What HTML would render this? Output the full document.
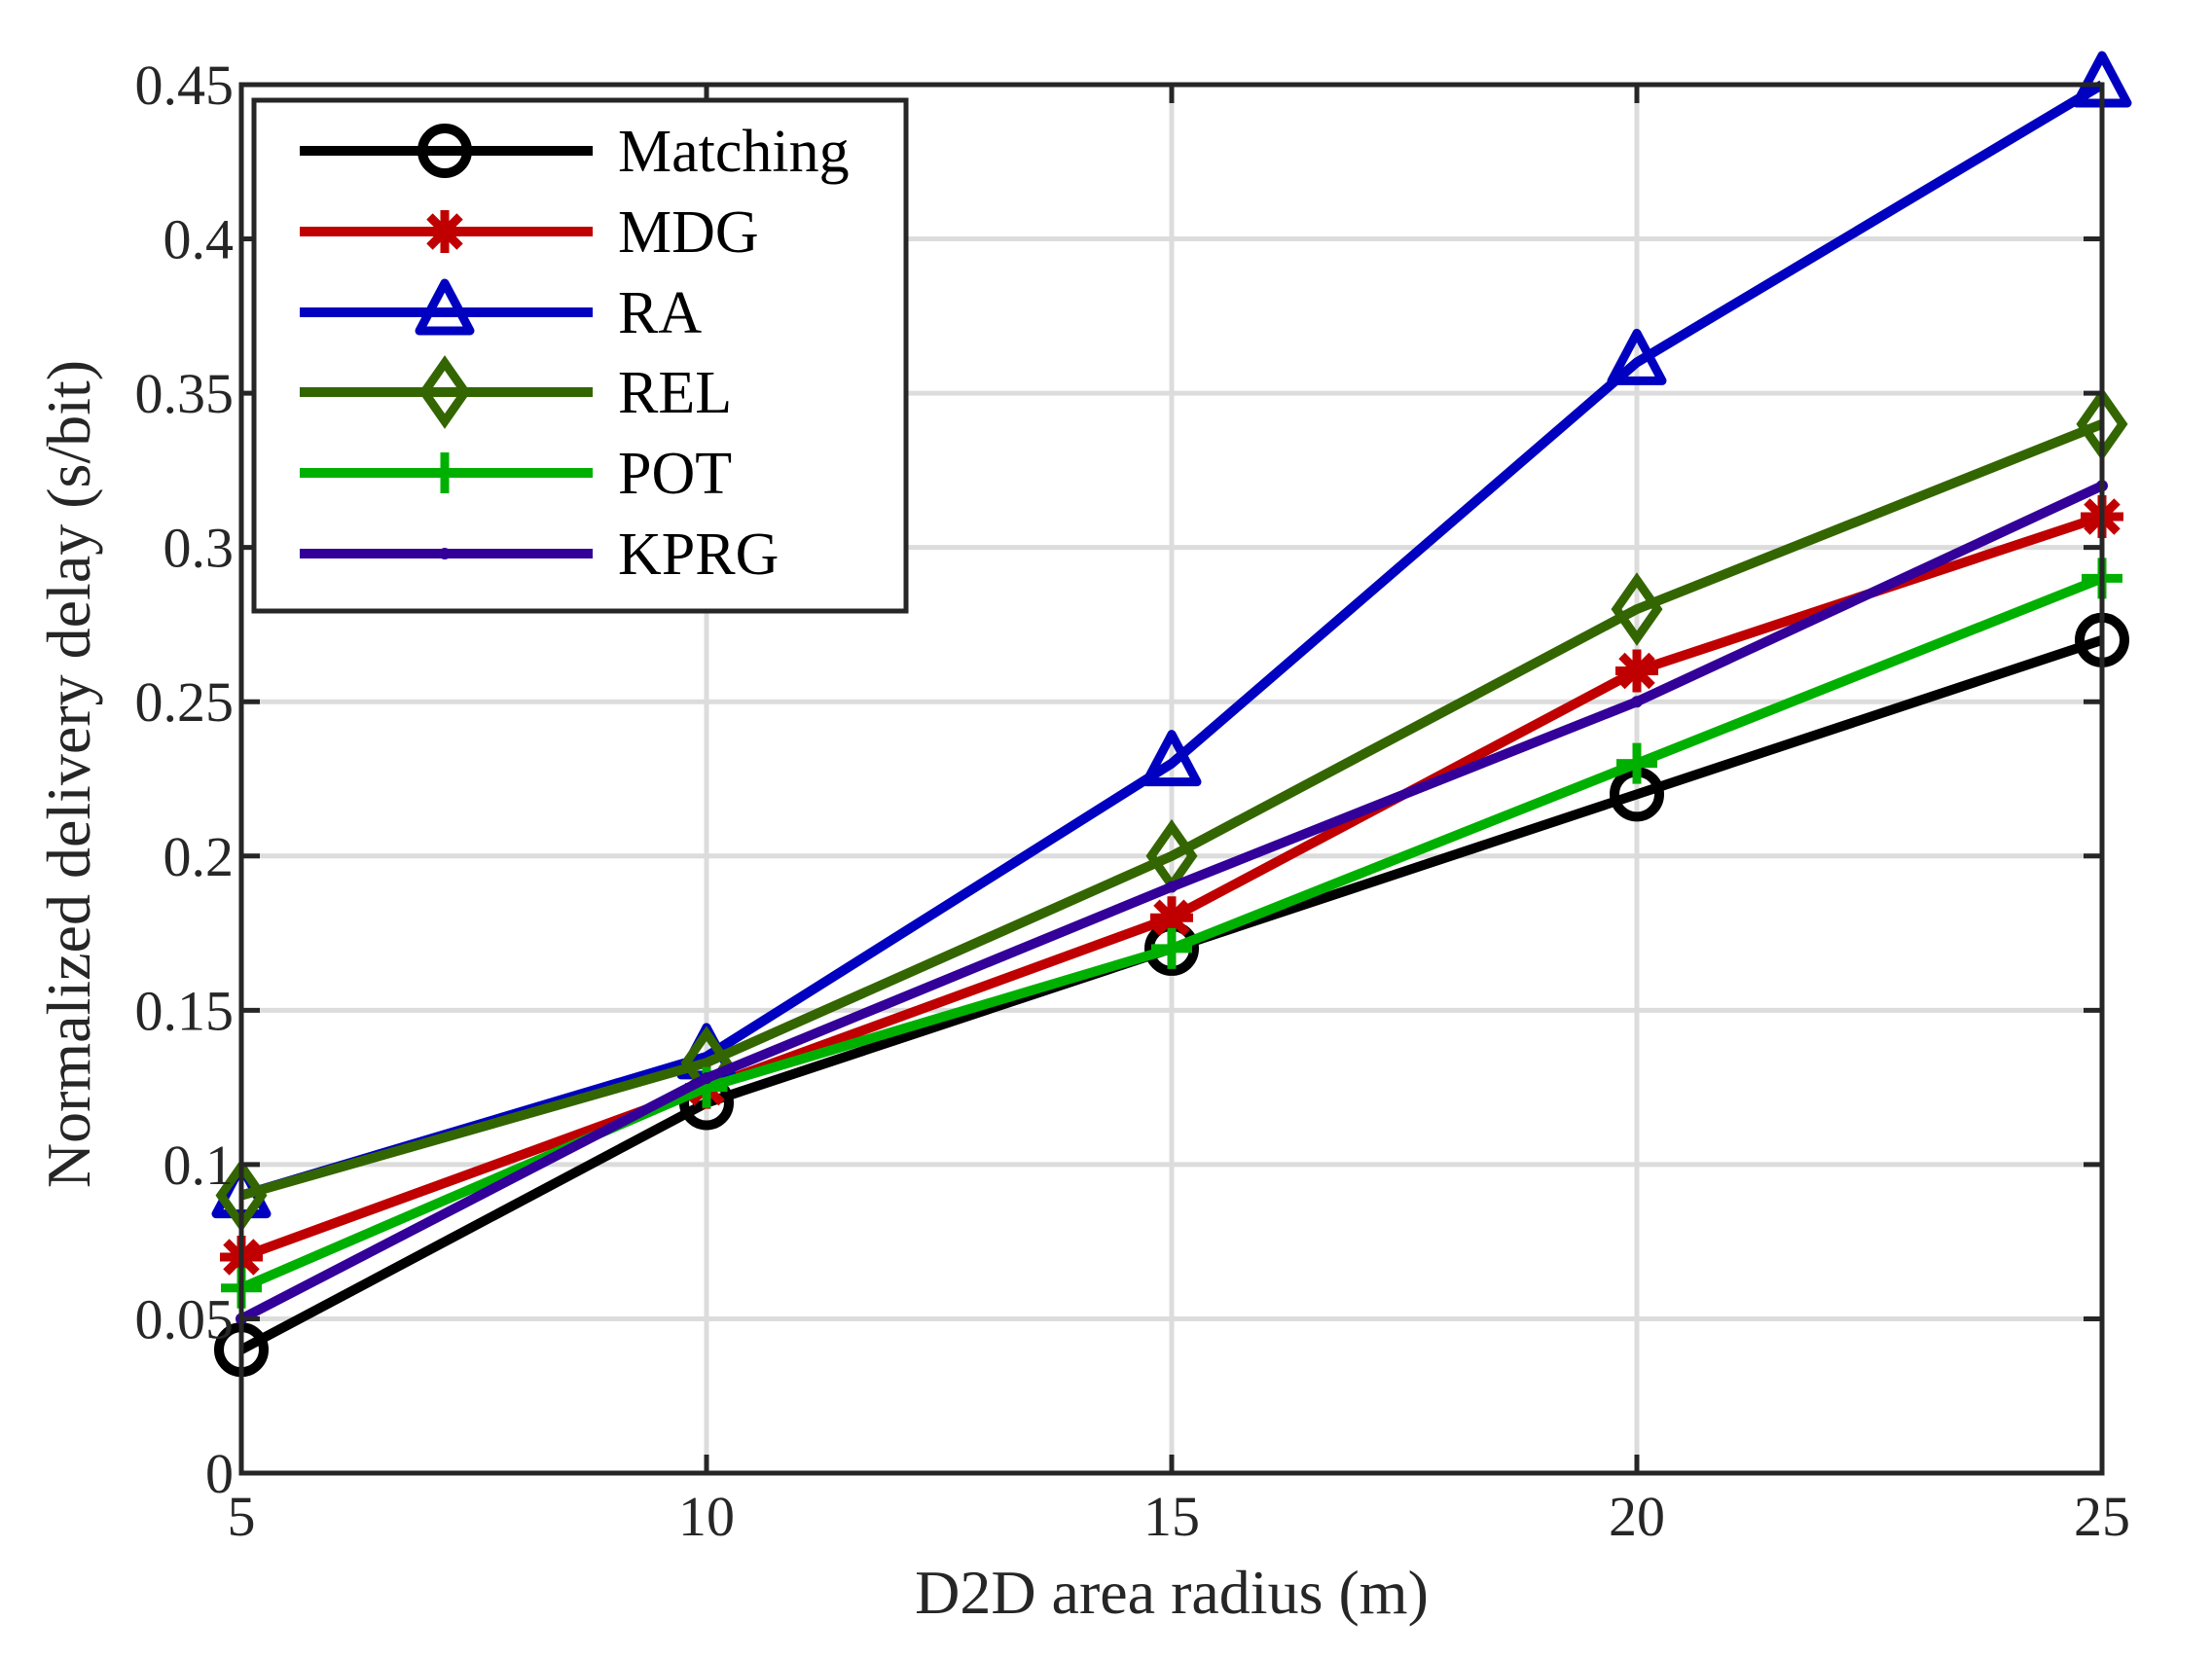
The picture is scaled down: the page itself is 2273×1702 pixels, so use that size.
<!DOCTYPE html>
<html><head><meta charset="utf-8"><style>
html,body{margin:0;padding:0;background:#fff;}
svg{display:block;font-family:"Liberation Serif",serif;}
</style></head><body>
<svg id="chart" width="2273" height="1702" viewBox="0 0 2273 1702" xmlns="http://www.w3.org/2000/svg">
<g id="grid"></g>
<g id="series"></g>
<g id="axes"></g>
<g id="legend"></g>
</svg>
<script>
const xValues = [5, 10, 15, 20, 25];
const seriesNames = ["Matching", "MDG", "RA", "REL", "POT", "KPRG"];
const matching = [0.04, 0.12, 0.17, 0.22, 0.27];
const mdg = [0.07, 0.125, 0.18, 0.26, 0.31];
const ra = [0.09, 0.135, 0.23, 0.36, 0.45];
const rel = [0.09, 0.133, 0.20, 0.28, 0.34];
const pot = [0.06, 0.125, 0.17, 0.23, 0.29];
const kprg = [0.05, 0.128, 0.19, 0.25, 0.32];
const xTicks = [5, 10, 15, 20, 25];
const yTicks = [0, 0.05, 0.1, 0.15, 0.2, 0.25, 0.3, 0.35, 0.4, 0.45];
const yTickLabels = ["0", "0.05", "0.1", "0.15", "0.2", "0.25", "0.3", "0.35", "0.4", "0.45"];

const L = 248, R = 2160, T = 87, B = 1514;
const xs = v => L + (v - 5) / 20 * (R - L);
const ys = v => B - v / 0.45 * (B - T);
const NS = "http://www.w3.org/2000/svg";
function mk(tag, attrs, parent) {
  const e = document.createElementNS(NS, tag);
  for (const k in attrs) e.setAttribute(k, attrs[k]);
  parent.appendChild(e);
  return e;
}
const grid = document.getElementById('grid');
const axes = document.getElementById('axes');
const seriesG = document.getElementById('series');
const legend = document.getElementById('legend');
const AX = "#262626";

mk('rect', {x: L, y: T, width: R - L, height: B - T, fill: '#fff'}, grid);
xTicks.forEach(t => {
  const g = mk('line', {x1: xs(t), x2: xs(t), y1: T, y2: B, stroke: '#dcdcdc', 'stroke-width': 5}, grid);
  
  
});
yTicks.forEach(t => {
  const g = mk('line', {x1: L, x2: R, y1: ys(t), y2: ys(t), stroke: '#dcdcdc', 'stroke-width': 5}, grid);
  
  
});

function marker(type, x, y, color, parent) {
  let m;
  if (type === 'circle') {
    m = mk('circle', {cx: x, cy: y, r: 23, fill: 'none', stroke: color, 'stroke-width': 10}, parent);
  } else if (type === 'star') {
    m = mk('g', {stroke: color, 'stroke-width': 9}, parent);
    const r = 22;
    for (let a = 0; a < 180; a += 45) {
      const rad = a * Math.PI / 180;
      mk('line', {x1: x - r * Math.sin(rad), y1: y - r * Math.cos(rad), x2: x + r * Math.sin(rad), y2: y + r * Math.cos(rad)}, m);
    }
  } else if (type === 'tri') {
    m = mk('polygon', {points: `${x},${y - 30} ${x - 26},${y + 19} ${x + 26},${y + 19}`, fill: 'none', stroke: color, 'stroke-width': 9, 'stroke-linejoin': 'round'}, parent);
  } else if (type === 'diamond') {
    m = mk('polygon', {points: `${x},${y - 30} ${x + 21},${y} ${x},${y + 30} ${x - 21},${y}`, fill: 'none', stroke: color, 'stroke-width': 9}, parent);
  } else if (type === 'plus') {
    m = mk('g', {stroke: color, 'stroke-width': 9}, parent);
    mk('line', {x1: x - 21, y1: y, x2: x + 21, y2: y}, m);
    mk('line', {x1: x, y1: y - 21, x2: x, y2: y + 21}, m);
  } else {
    m = mk('circle', {cx: x, cy: y, r: 6, fill: color}, parent);
  }
  
  
}

const allSeries = [
  {name: seriesNames[0], data: matching, color: '#000000', m: 'circle'},
  {name: seriesNames[1], data: mdg, color: '#c00000', m: 'star'},
  {name: seriesNames[2], data: ra, color: '#0000c0', m: 'tri'},
  {name: seriesNames[3], data: rel, color: '#336600', m: 'diamond'},
  {name: seriesNames[4], data: pot, color: '#00b000', m: 'plus'},
  {name: seriesNames[5], data: kprg, color: '#330099', m: 'dot'}
];
allSeries.forEach(s => {
  const g = mk('g', {}, seriesG);
  
  
  const pts = s.data.map((v, i) => xs(xValues[i]) + ',' + ys(v)).join(' ');
  const pl = mk('polyline', {points: pts, fill: 'none', stroke: s.color, 'stroke-width': 10, 'stroke-linejoin': 'round'}, g);
  
  
  s.data.forEach((v, i) => marker(s.m, xs(xValues[i]), ys(v), s.color, g));
});

mk('rect', {x: L, y: T, width: R - L, height: B - T, fill: 'none', stroke: AX, 'stroke-width': 5}, axes);
xTicks.forEach(t => {
  mk('line', {x1: xs(t), x2: xs(t), y1: B, y2: B - 19, stroke: AX, 'stroke-width': 5}, axes);
  mk('line', {x1: xs(t), x2: xs(t), y1: T, y2: T + 19, stroke: AX, 'stroke-width': 5}, axes);
  const tx = mk('text', {x: xs(t), y: B + 64, 'font-size': 58, 'text-anchor': 'middle', fill: AX}, axes);
  tx.textContent = t;
  
  
});
yTicks.forEach((t, i) => {
  mk('line', {x1: L, x2: L + 19, y1: ys(t), y2: ys(t), stroke: AX, 'stroke-width': 5}, axes);
  mk('line', {x1: R, x2: R - 19, y1: ys(t), y2: ys(t), stroke: AX, 'stroke-width': 5}, axes);
  const tx = mk('text', {x: L - 8, y: ys(t) + 20, 'font-size': 58, 'text-anchor': 'end', fill: AX}, axes);
  tx.textContent = yTickLabels[i];
  
  
});
const xt = mk('text', {x: (L + R) / 2, y: 1658, 'font-size': 64, 'text-anchor': 'middle', fill: AX}, axes);
xt.textContent = 'D2D area radius (m)';


const yt = mk('text', {x: 0, y: 0, 'font-size': 64, 'text-anchor': 'middle', fill: AX, transform: `translate(92,${(T + B) / 2 - 5}) rotate(-90)`}, axes);
yt.textContent = 'Normalized delivery delay (s/bit)';



const lb = mk('rect', {x: 261, y: 103, width: 670, height: 525, fill: '#fff', stroke: AX, 'stroke-width': 5}, legend);


const rowY = [155, 238, 321, 403, 486, 569];
allSeries.forEach((s, i) => {
  const g = mk('g', {}, legend);
  
  
  mk('line', {x1: 308, x2: 609, y1: rowY[i], y2: rowY[i], stroke: s.color, 'stroke-width': 10}, g);
  marker(s.m, 457, rowY[i], s.color, g);
  const t = mk('text', {x: 635, y: rowY[i] + 21, 'font-size': 62, fill: '#000'}, g);
  t.textContent = s.name;
});
</script>
</body></html>
